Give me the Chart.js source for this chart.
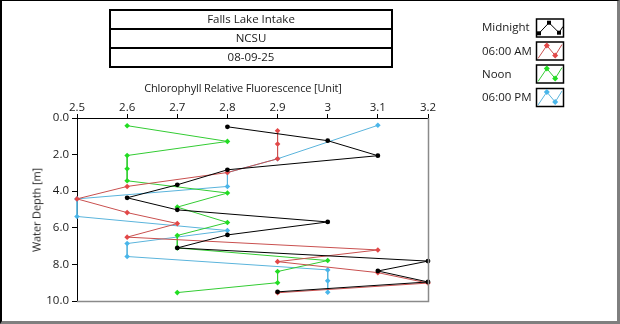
<!DOCTYPE html>
<html>
<head>
<meta charset="utf-8">
<script src="https://cdn.jsdelivr.net/npm/chart.js@4/dist/chart.umd.min.js"></script>
<style>
  html, body { margin: 0; padding: 0; background: #fff; }
  #wrap { position: relative; width: 620px; height: 324px; overflow: hidden;
          font-family: 'Open Sans', 'Noto Sans', sans-serif; color: #1a1a1a; }
  #c { position: absolute; left: 0; top: 0; }
  .frame { position: absolute; left: 0; top: 0; width: 620px; height: 324px; box-sizing: border-box;
           border-top: 1px solid #000; border-left: 2px solid #000;
           border-right: 3px solid #7f7f7f; border-bottom: 3px solid #7f7f7f; pointer-events: none; }
  .hdr { position: absolute; left: 109px; width: 284px; box-sizing: border-box;
         border: 2px solid #000; text-align: center; font-size: 11.5px; line-height: 16px; }
  .txt { position: absolute; white-space: nowrap; font-size: 11.5px; line-height: 14px; }
  .ytitle { position: absolute; left: 36px; top: 210px; white-space: nowrap; font-size: 11px;
            font-weight: normal; color: #1a1a1a; letter-spacing: -0.1px;
            transform: translate(-50%, -50%) rotate(-90deg); }
</style>
</head>
<body>
<div id="wrap">
  <canvas id="c" width="620" height="324"></canvas>
  <div class="hdr" style="top:9px;height:21px;">Falls Lake Intake</div>
  <div class="hdr" style="top:28px;height:21px;">NCSU</div>
  <div class="hdr" style="top:47px;height:21px;">08-09-25</div>
  <div class="txt" style="left:243px;top:81px;font-size:11px;letter-spacing:-0.15px;transform:translateX(-50%);">Chlorophyll Relative Fluorescence [Unit]</div>
  <div class="ytitle">Water Depth [m]</div>
  <div class="txt" style="left:482px;top:20px;">Midnight</div>
  <div class="txt" style="left:482px;top:44px;">06:00 AM</div>
  <div class="txt" style="left:482px;top:67px;">Noon</div>
  <div class="txt" style="left:482px;top:90px;">06:00 PM</div>
  <div class="frame"></div>
</div>
<script>
// Profile readings: fluorescence value and depth (m) for each sampling time
const seriesNames = ['Midnight', '06:00 AM', 'Noon', '06:00 PM'];

const midnightFluor = [2.8, 3.0, 3.1, 2.8, 2.7, 2.6, 2.7, 3.0, 2.8, 2.7, 3.2, 3.1, 3.2, 2.9];
const midnightDepth = [0.48, 1.24, 2.06, 2.83, 3.65, 4.36, 5.02, 5.68, 6.39, 7.1, 7.82, 8.36, 8.96, 9.5];

const morningFluor = [2.9, 2.9, 2.9, 2.8, 2.6, 2.5, 2.6, 2.7, 2.6, 3.1, 2.9, 3.1, 3.2, 2.9];
const morningDepth = [0.7, 1.42, 2.23, 2.98, 3.74, 4.42, 5.17, 5.77, 6.51, 7.21, 7.85, 8.45, 9.02, 9.55];

const noonFluor = [2.6, 2.8, 2.6, 2.6, 2.6, 2.8, 2.7, 2.8, 2.7, 2.7, 3.0, 2.9, 2.9, 2.7];
const noonDepth = [0.42, 1.28, 2.05, 2.77, 3.43, 4.1, 4.87, 5.71, 6.42, 7.1, 7.79, 8.39, 9.0, 9.54];

const eveningFluor = [3.1, 2.9, 2.8, 2.8, 2.5, 2.5, 2.8, 2.6, 2.6, 3.0, 3.0, 3.0];
const eveningDepth = [0.4, 2.23, 2.98, 3.74, 4.42, 5.38, 6.15, 6.86, 7.57, 8.3, 8.9, 9.52];

const xTickValues = [2.5, 2.6, 2.7, 2.8, 2.9, 3.0, 3.1, 3.2];
const xTickLabels = ['2.5', '2.6', '2.7', '2.8', '2.9', '3', '3.1', '3.2'];
const yTickValues = [0, 2, 4, 6, 8, 10];
const yTickLabels = ['0.0', '2.0', '4.0', '6.0', '8.0', '10.0'];

const colors = ['#000000', '#e34848', '#22dd22', '#4ab6ea'];
const lineColors = ['#000000', '#c9504f', '#33cc33', '#5ab4dc'];

const FONT = { family: "'Open Sans', 'Noto Sans', sans-serif", size: 11.5 };

function pairs(xs, ys) {
  return xs.map((x, i) => ({ x: x, y: ys[i] }));
}

const seriesData = [
  pairs(midnightFluor, midnightDepth),
  pairs(morningFluor, morningDepth),
  pairs(noonFluor, noonDepth),
  pairs(eveningFluor, eveningDepth)
];

const datasets = seriesData.map((d, i) => ({
  label: seriesNames[i],
  data: d,
  showLine: true,
  borderColor: lineColors[i],
  backgroundColor: colors[i],
  pointBackgroundColor: colors[i],
  pointBorderColor: colors[i],
  borderWidth: 1,
  pointStyle: i === 0 ? 'circle' : 'rectRot',
  pointRadius: i === 0 ? 2.4 : 2.8,
  pointBorderWidth: 0,
  tension: 0,
  clip: false,
  order: i
}));

// Legend swatches and the grey right/bottom edges of the plot frame
const framePlugin = {
  id: 'frameAndSwatches',
  afterDraw(chart) {
    const ctx = chart.ctx;
    const a = chart.chartArea;
    ctx.save();
    ctx.strokeStyle = '#8a8a8a';
    ctx.lineWidth = 1.5;
    ctx.beginPath();
    ctx.moveTo(Math.round(a.right) + 0.5, Math.round(a.top));
    ctx.lineTo(Math.round(a.right) + 0.5, Math.round(a.bottom) + 0.5);
    ctx.lineTo(Math.round(a.left), Math.round(a.bottom) + 0.5);
    ctx.stroke();

    const boxTops = [19, 42, 65, 88.5];
    const bx = 536.5;
    boxTops.forEach((top, i) => {
      ctx.strokeStyle = '#000';
      ctx.lineWidth = 1.5;
      ctx.strokeRect(bx, top, 27, 18);
      ctx.strokeStyle = lineColors[i];
      ctx.fillStyle = colors[i];
      ctx.lineWidth = 1;
      let pts, marks;
      if (i === 0) {
        pts = [[2.5, 14.3], [12.5, 3.7], [22.5, 13.7], [26.5, 7.5]];
        marks = pts.slice(0, 3);
      } else {
        pts = [[1.5, 16.5], [10.3, 3.5], [18.7, 13.5], [25.5, 2.5]];
        marks = pts.slice(1, 3);
      }
      ctx.beginPath();
      pts.forEach((p, k) => {
        if (k === 0) ctx.moveTo(bx + p[0], top + p[1]);
        else ctx.lineTo(bx + p[0], top + p[1]);
      });
      ctx.stroke();
      marks.forEach(p => {
        const px = bx + p[0], py = top + p[1];
        ctx.beginPath();
        if (i === 0) {
          ctx.rect(px - 2, py - 2, 4, 4);
        } else {
          ctx.moveTo(px, py - 3); ctx.lineTo(px + 3, py);
          ctx.lineTo(px, py + 3); ctx.lineTo(px - 3, py);
          ctx.closePath();
        }
        ctx.fill();
      });
    });
    ctx.restore();
  }
};

new Chart(document.getElementById('c'), {
  type: 'scatter',
  data: { datasets: datasets },
  options: {
    responsive: false,
    animation: false,
    devicePixelRatio: 1,
    layout: { padding: { left: 0, top: 80, right: 192, bottom: 23 } },
    plugins: { legend: { display: false }, tooltip: { enabled: false }, title: { display: false } },
    scales: {
      x: {
        type: 'linear',
        position: 'top',
        min: 2.5,
        max: 3.2,
        afterBuildTicks: s => { s.ticks = xTickValues.map(v => ({ value: v })); },
        afterFit: s => { s.height = 38; },
        ticks: {
          autoSkip: false, maxRotation: 0, padding: -1, color: '#1a1a1a', font: FONT,
          callback: (v, i) => xTickLabels[i]
        },
        grid: { drawOnChartArea: false, drawTicks: true, tickLength: 4, color: '#000', tickWidth: 1 },
        border: { display: true, color: '#000', width: 1 }
      },
      y: {
        type: 'linear',
        position: 'left',
        reverse: true,
        min: 0,
        max: 10,
        afterBuildTicks: s => { s.ticks = yTickValues.map(v => ({ value: v })); },
        afterFit: s => { s.width = 77; },
        ticks: {
          autoSkip: false, padding: 3, color: '#1a1a1a', font: FONT,
          callback: (v, i) => yTickLabels[i]
        },
        grid: { drawOnChartArea: false, drawTicks: true, tickLength: 5, color: '#000', tickWidth: 1 },
        border: { display: true, color: '#000', width: 1 }
      }
    }
  },
  plugins: [framePlugin]
});
</script>
</body>
</html>
